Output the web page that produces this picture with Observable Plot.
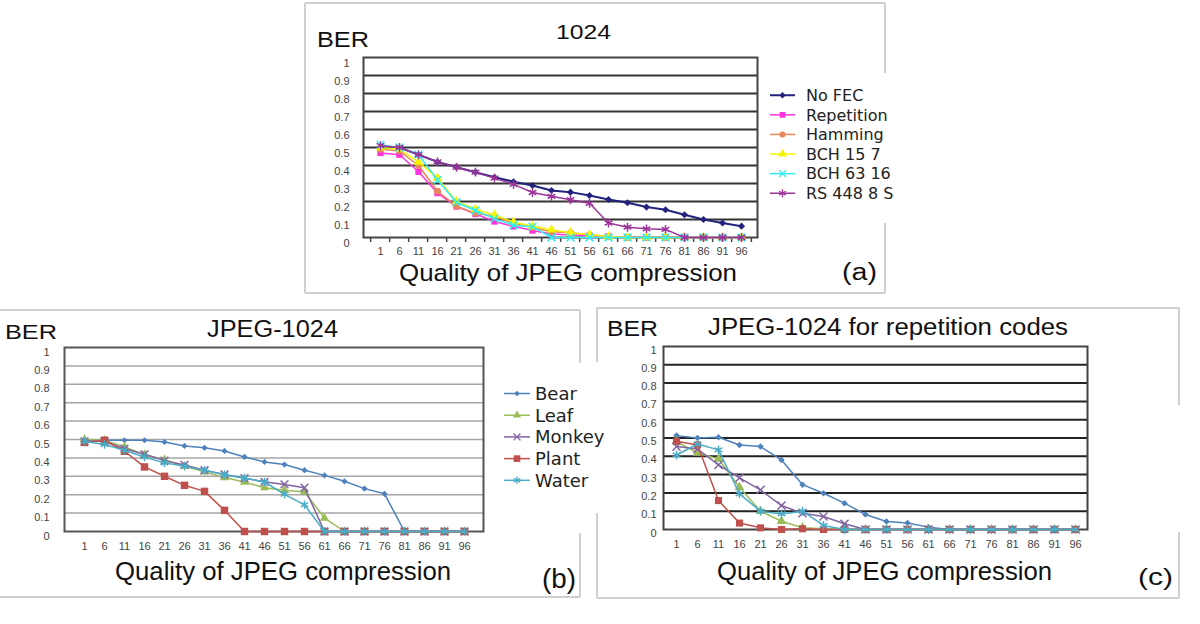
<!DOCTYPE html>
<html><head><meta charset="utf-8">
<script src="https://cdn.jsdelivr.net/npm/d3@7"></script>
<script src="https://cdn.jsdelivr.net/npm/@observablehq/plot@0.6"></script>
<style>
html,body{margin:0;padding:0;background:#fff;width:1200px;height:624px;overflow:hidden}
#root{position:relative;width:1200px;height:624px}
.pl{position:absolute}
</style></head><body><div id="root"></div>
<script>
// ---------- data ----------
const categories = ["1","6","11","16","21","26","31","36","41","46","51","56","61","66","71","76","81","86","91","96"];
const yTicks = [0,0.1,0.2,0.3,0.4,0.5,0.6,0.7,0.8,0.9,1];

// panel (a) "1024"
const seriesA = ["No FEC","Repetition","Hamming","BCH 15 7","BCH 63 16","RS 448 8 S"];
const noFEC      = [0.50,0.50,0.46,0.42,0.39,0.363,0.335,0.31,0.289,0.261,0.252,0.233,0.211,0.193,0.169,0.154,0.126,0.10,0.081,0.063];
const repetition = [0.47,0.46,0.365,0.247,0.172,0.131,0.089,0.062,0.039,0.02,0.014,0.01,0.006,0.002,0.001,0.001,0,0,0,0];
const hamming    = [0.49,0.48,0.40,0.257,0.174,0.135,0.118,0.078,0.056,0.032,0.026,0.015,0.005,0,0,0,0,0,0,0];
const bch157     = [0.50,0.49,0.42,0.33,0.20,0.157,0.125,0.086,0.062,0.043,0.027,0.015,0.005,0,0,0,0,0,0,0];
const bch6316    = [0.515,0.50,0.46,0.32,0.196,0.15,0.105,0.068,0.06,0,0,0,0,0,0,0,0,0,0,0];
const rs44885    = [0.51,0.50,0.46,0.42,0.39,0.363,0.33,0.295,0.25,0.229,0.21,0.19,0.08,0.057,0.048,0.045,0,0,0,0];

// panel (b) "JPEG-1024"
const seriesB = ["Bear","Leaf","Monkey","Plant","Water"];
const bearB   = [0.496,0.496,0.496,0.496,0.487,0.465,0.455,0.438,0.405,0.378,0.364,0.333,0.305,0.273,0.233,0.205,0,0,0,0];
const leafB   = [0.50,0.496,0.46,0.418,0.39,0.355,0.324,0.293,0.269,0.238,0.224,0.215,0.073,0,0,0,0,0,0,0];
const monkeyB = [0.49,0.49,0.45,0.42,0.385,0.362,0.333,0.31,0.29,0.27,0.256,0.238,0,0,0,0,0,0,0,0];
const plantB  = [0.484,0.496,0.436,0.351,0.30,0.251,0.218,0.115,0,0,0,0,0,0,0,0,0,0,0,0];
const waterB  = [0.49,0.473,0.442,0.405,0.373,0.355,0.333,0.309,0.291,0.269,0.202,0.145,0,0,0,0,0,0,0,0];

// panel (c) "JPEG-1024 for repetition codes"
const bearC   = [0.513,0.50,0.504,0.462,0.453,0.38,0.245,0.198,0.144,0.082,0.044,0.035,0.013,0,0,0,0,0,0,0];
const leafC   = [0.48,0.418,0.385,0.231,0.10,0.045,0.01,0.004,0,0,0,0,0,0,0,0,0,0,0,0];
const monkeyC = [0.453,0.44,0.353,0.282,0.216,0.131,0.089,0.071,0.031,0,0,0,0,0,0,0,0,0,0,0];
const plantC  = [0.482,0.462,0.158,0.035,0.009,0,0.004,0,0,0,0,0,0,0,0,0,0,0,0,0];
const waterC  = [0.407,0.467,0.435,0.195,0.10,0.085,0.10,0.022,0,0,0,0,0,0,0,0,0,0,0,0];

// ---------- styles ----------
const stylesA = [
  {name: seriesA[0], values: noFEC,      color: "#23237e", symbol: "diamond2", r: 3.2, lw: 2, filled: true},
  {name: seriesA[1], values: repetition, color: "#ff33dd", symbol: "square",   r: 3.6, lw: 1.5, filled: true},
  {name: seriesA[2], values: hamming,    color: "#e8885a", symbol: "circle",   r: 3.4, lw: 1.5, filled: true},
  {name: seriesA[3], values: bch157,     color: "#f5f500", symbol: "triangle", r: 3.6, lw: 1.5, filled: true},
  {name: seriesA[4], values: bch6316,    color: "#33eeee", symbol: "times",    r: 3.6, lw: 1.5, filled: false},
  {name: seriesA[5], values: rs44885,    color: "#9a359a", symbol: "asterisk", r: 4.2, lw: 1.5, filled: false}
];
const colorsB = ["#4f81bd","#9bbb59","#8064a2","#c0504d","#4bacc6"];
const symB = [
  {symbol: "diamond2", r: 2.8, filled: true},
  {symbol: "triangle", r: 3.4, filled: true},
  {symbol: "times",    r: 3.6, filled: false},
  {symbol: "square",   r: 4.2, filled: true},
  {symbol: "asterisk", r: 4.0, filled: false}
];
const stylesB = [bearB,leafB,monkeyB,plantB,waterB].map((v,i) => ({name: seriesB[i], values: v, color: colorsB[i], lw: 1.5, ...symB[i]}));
const stylesC = [bearC,leafC,monkeyC,plantC,waterC].map((v,i) => ({name: seriesB[i], values: v, color: colorsB[i], lw: 1.5, ...symB[i], r: symB[i].r * (i===3 ? 0.95 : 1.05)}));

const fmt = d => String(+d.toFixed(1));

function panel(o) {
  const width = o.mL + o.plotW + o.mR, height = o.mT + o.plotH + o.mB;
  const step = o.plotW / categories.length;
  const marks = [
    Plot.ruleY(yTicks.filter(v => v > 0 && v < 1), {y: d => d, stroke: o.gridColor, strokeWidth: o.gridWidth}),
    Plot.frame({stroke: o.frameColor, strokeWidth: o.frameWidth}),
    Plot.text(yTicks, {y: d => d, frameAnchor: "left", dx: o.yDx, dy: o.yDy, textAnchor: "end", text: d => fmt(d), fill: "#444", fontSize: 11}),
    Plot.text(categories, {x: d => d, frameAnchor: "bottom", dy: o.xDy, text: d => d, fill: "#444", fontSize: 11})
  ];
  if (o.bottomTicks) {
    marks.push(Plot.ruleX(categories, {x: d => d, dx: -step / 2, insetTop: o.plotH, insetBottom: -5, stroke: o.frameColor, strokeWidth: 1.5}));
    marks.push(Plot.ruleX(categories.slice(-1), {x: d => d, dx: step / 2, insetTop: o.plotH, insetBottom: -5, stroke: o.frameColor, strokeWidth: 1.5}));
  }
  for (const s of o.series) {
    const rows = categories.map((q, i) => ({q, v: s.values[i]}));
    marks.push(Plot.line(rows, {x: "q", y: "v", stroke: s.color, strokeWidth: s.lw}));
    marks.push(Plot.dot(rows, s.filled
      ? {x: "q", y: "v", symbol: s.symbol, r: s.r, fill: s.color, stroke: "none"}
      : {x: "q", y: "v", symbol: s.symbol, r: s.r, fill: "none", stroke: s.color, strokeWidth: 1.5}));
  }
  const svg = Plot.plot({
    width, height,
    marginLeft: o.mL, marginRight: o.mR, marginTop: o.mT, marginBottom: o.mB,
    x: {type: "point", domain: categories, padding: 0.5, axis: null},
    y: {type: "linear", domain: [0, 1], axis: null},
    style: {background: "transparent", overflow: "visible", fontFamily: "'Liberation Sans', Arial, sans-serif"},
    marks
  });
  const div = document.createElement("div");
  div.className = "pl";
  div.style.left = o.left + "px";
  div.style.top = o.top + "px";
  div.appendChild(svg);
  return div;
}

const root = document.getElementById("root");

// ---------- overlay: borders, texts, legends ----------
const ov = d3.create("svg").attr("width", 1200).attr("height", 624)
  .style("position", "absolute").style("left", "0px").style("top", "0px");

const borders = [
  [305,3,885,3],[305,3,305,293],[305,293,885,293],[885,3,885,73],[885,223,885,293],
  [0,310,580,310],[0,597,580,597],[580,310,580,363],[580,533,580,597],
  [597,308,1179,308],[597,598,1179,598],[597,308,597,362],[597,513,597,598],[1179,308,1179,405],[1179,532,1179,598]
];
ov.append("g").selectAll("line").data(borders).join("line")
  .attr("x1", d => d[0]).attr("y1", d => d[1]).attr("x2", d => d[2]).attr("y2", d => d[3])
  .attr("stroke", "#cfcfcf").attr("stroke-width", 2);

const texts = [
  {t: "BER", x: 317, y: 47, s: 22, w: 52},
  {t: "1024", x: 556, y: 39, s: 20, w: 55},
  {t: "Quality of JPEG compression", x: 399, y: 281, s: 24, w: 338},
  {t: "(a)", x: 842, y: 280, s: 23, w: 35},
  {t: "BER", x: 5, y: 339, s: 21, w: 52},
  {t: "JPEG-1024", x: 207, y: 337, s: 23, w: 131},
  {t: "Quality of JPEG compression", x: 115, y: 580, s: 25, w: 336},
  {t: "(b)", x: 542, y: 588, s: 27, w: 34},
  {t: "BER", x: 607, y: 336, s: 22, w: 51},
  {t: "JPEG-1024 for repetition codes", x: 708, y: 335, s: 23, w: 360},
  {t: "Quality of JPEG compression", x: 717, y: 580, s: 25, w: 335},
  {t: "(c)", x: 1138, y: 585, s: 24, w: 35}
];
ov.append("g").selectAll("text").data(texts).join("text")
  .attr("x", d => d.x).attr("y", d => d.y)
  .attr("font-family", "'Liberation Sans', Arial, sans-serif")
  .attr("font-size", d => d.s).attr("fill", "#111")
  .attr("textLength", d => d.w).attr("lengthAdjust", "spacingAndGlyphs")
  .text(d => d.t);

const symMap = {diamond2: d3.symbolDiamond2, square: d3.symbolSquare, circle: d3.symbolCircle, triangle: d3.symbolTriangle, times: d3.symbolTimes, asterisk: d3.symbolAsterisk};

function legend(styles, x0, x1, tx, y0, dy, fontSize) {
  const g = ov.append("g");
  styles.forEach((s, i) => {
    const y = y0 + i * dy;
    const cy = y - fontSize * 0.36;
    g.append("line").attr("x1", x0).attr("x2", x1).attr("y1", cy).attr("y2", cy)
      .attr("stroke", s.color).attr("stroke-width", s.lw);
    g.append("path").attr("transform", `translate(${(x0 + x1) / 2},${cy})`)
      .attr("d", d3.symbol(symMap[s.symbol], Math.PI * s.r * s.r * 0.8)())
      .attr("fill", s.filled ? s.color : "none")
      .attr("stroke", s.filled ? "none" : s.color).attr("stroke-width", 1.3);
    g.append("text").attr("x", tx).attr("y", y)
      .attr("font-family", "'DejaVu Sans', Verdana, sans-serif")
      .attr("font-size", fontSize).attr("fill", "#222").text(s.name);
  });
}
legend(stylesA, 770, 795, 806, 101, 19.6, 16);
legend(stylesB, 504, 530, 535, 400, 21.7, 18);

root.appendChild(ov.node());

// ---------- plots ----------
root.appendChild(panel({
  left: 305, top: 40, plotW: 394, plotH: 180, mL: 58, mR: 18, mT: 17, mB: 38,
  series: stylesA, gridColor: "#333", gridWidth: 2, frameColor: "#444", frameWidth: 2,
  yDx: -14, yDy: 6, xDy: 17, bottomTicks: true
}));
root.appendChild(panel({
  left: 0, top: 330, plotW: 419, plotH: 184, mL: 64, mR: 17, mT: 17, mB: 39,
  series: stylesB, gridColor: "#a6a6a6", gridWidth: 1.5, frameColor: "#555", frameWidth: 2,
  yDx: -15, yDy: 4.5, xDy: 18, bottomTicks: false
}));
root.appendChild(panel({
  left: 600, top: 330, plotW: 424, plotH: 183, mL: 63, mR: 13, mT: 16, mB: 36,
  series: stylesC, gridColor: "#222", gridWidth: 2, frameColor: "#444", frameWidth: 2,
  yDx: -7, yDy: 3.5, xDy: 18, bottomTicks: false
}));
</script>
</body></html>
